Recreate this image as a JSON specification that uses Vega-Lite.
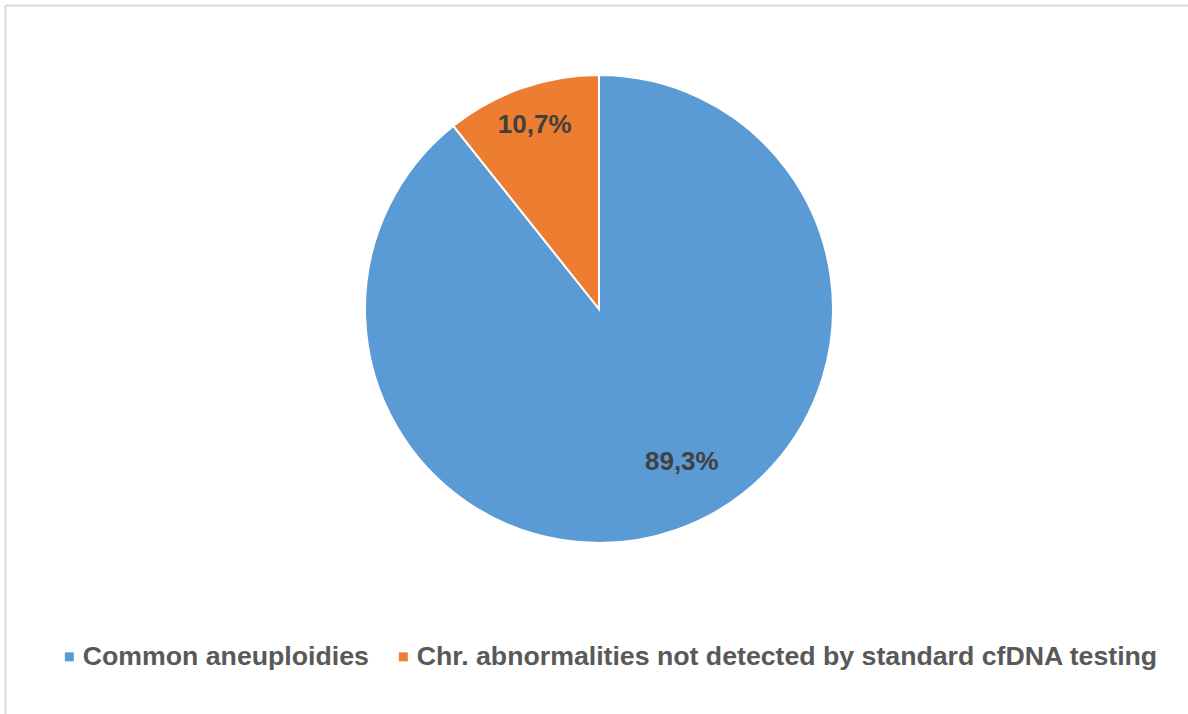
{
  "$schema": "https://vega.github.io/schema/vega-lite/v6.json",
  "width": 1188,
  "height": 608,
  "padding": {"left": 2, "top": 5, "right": 0, "bottom": 5},
  "background": "white",
  "data": {
    "values": [
      {"group": "Common aneuploidies", "share": 0.893},
      {"group": "Chr. abnormalities not detected by standard cfDNA testing", "share": 0.107}
    ]
  },
  "layer": [
    {
      "mark": {"type": "point", "opacity": 0},
      "encoding": {
        "x": {
          "datum": 0,
          "type": "quantitative",
          "scale": {"domain": [0, 1]},
          "axis": {"orient": "top", "domainColor": "#d9d9d9", "domainWidth": 2, "ticks": false, "labels": false, "grid": false, "title": null}
        },
        "y": {
          "datum": 0,
          "type": "quantitative",
          "scale": {"domain": [0, 1], "range": [709, 0]},
          "axis": {"orient": "left", "domainColor": "#d9d9d9", "domainWidth": 2, "ticks": false, "labels": false, "grid": false, "title": null}
        }
      }
    },
    {
      "mark": {"type": "arc", "outerRadius": 234, "stroke": "white", "strokeWidth": 2},
      "encoding": {
        "theta": {"field": "share", "type": "quantitative", "stack": true},
        "order": {"field": "share", "sort": "descending"},
        "color": {
          "field": "group",
          "type": "nominal",
          "sort": ["Common aneuploidies", "Chr. abnormalities not detected by standard cfDNA testing"],
          "scale": {
            "domain": ["Common aneuploidies", "Chr. abnormalities not detected by standard cfDNA testing"],
            "range": ["#5B9BD5", "#ED7D31"]
          },
          "legend": {
            "orient": "none",
            "legendX": 51,
            "legendY": 638,
            "direction": "horizontal",
            "title": null,
            "symbolType": "square",
            "symbolSize": 80,
            "symbolStrokeWidth": 0,
            "labelFont": "Liberation Sans",
            "labelFontSize": 26.7,
            "labelFontWeight": "bold",
            "labelColor": "#595959",
            "labelLimit": 1000,
            "labelOffset": 0,
            "columnPadding": 21
          }
        }
      }
    },
    {
      "mark": {"type": "text", "radius": 174, "thetaOffset": -0.16, "font": "Liberation Sans", "fontSize": 26, "fontWeight": "bold", "color": "#404040"},
      "encoding": {
        "theta": {"field": "share", "type": "quantitative", "stack": true},
        "order": {"field": "share", "sort": "descending"},
        "text": {
          "condition": {"test": "datum.group === 'Common aneuploidies'", "field": "share", "type": "quantitative", "format": ".1%"},
          "value": ""
        }
      }
    },
    {
      "mark": {"type": "text", "radius": 195, "font": "Liberation Sans", "fontSize": 26, "fontWeight": "bold", "color": "#404040"},
      "encoding": {
        "theta": {"field": "share", "type": "quantitative", "stack": true},
        "order": {"field": "share", "sort": "descending"},
        "text": {
          "condition": {"test": "datum.group !== 'Common aneuploidies'", "field": "share", "type": "quantitative", "format": ".1%"},
          "value": ""
        }
      }
    }
  ],
  "config": {
    "view": {"stroke": null},
    "locale": {"number": {"decimal": ",", "thousands": ".", "grouping": [3], "currency": ["", " €"]}}
  }
}
